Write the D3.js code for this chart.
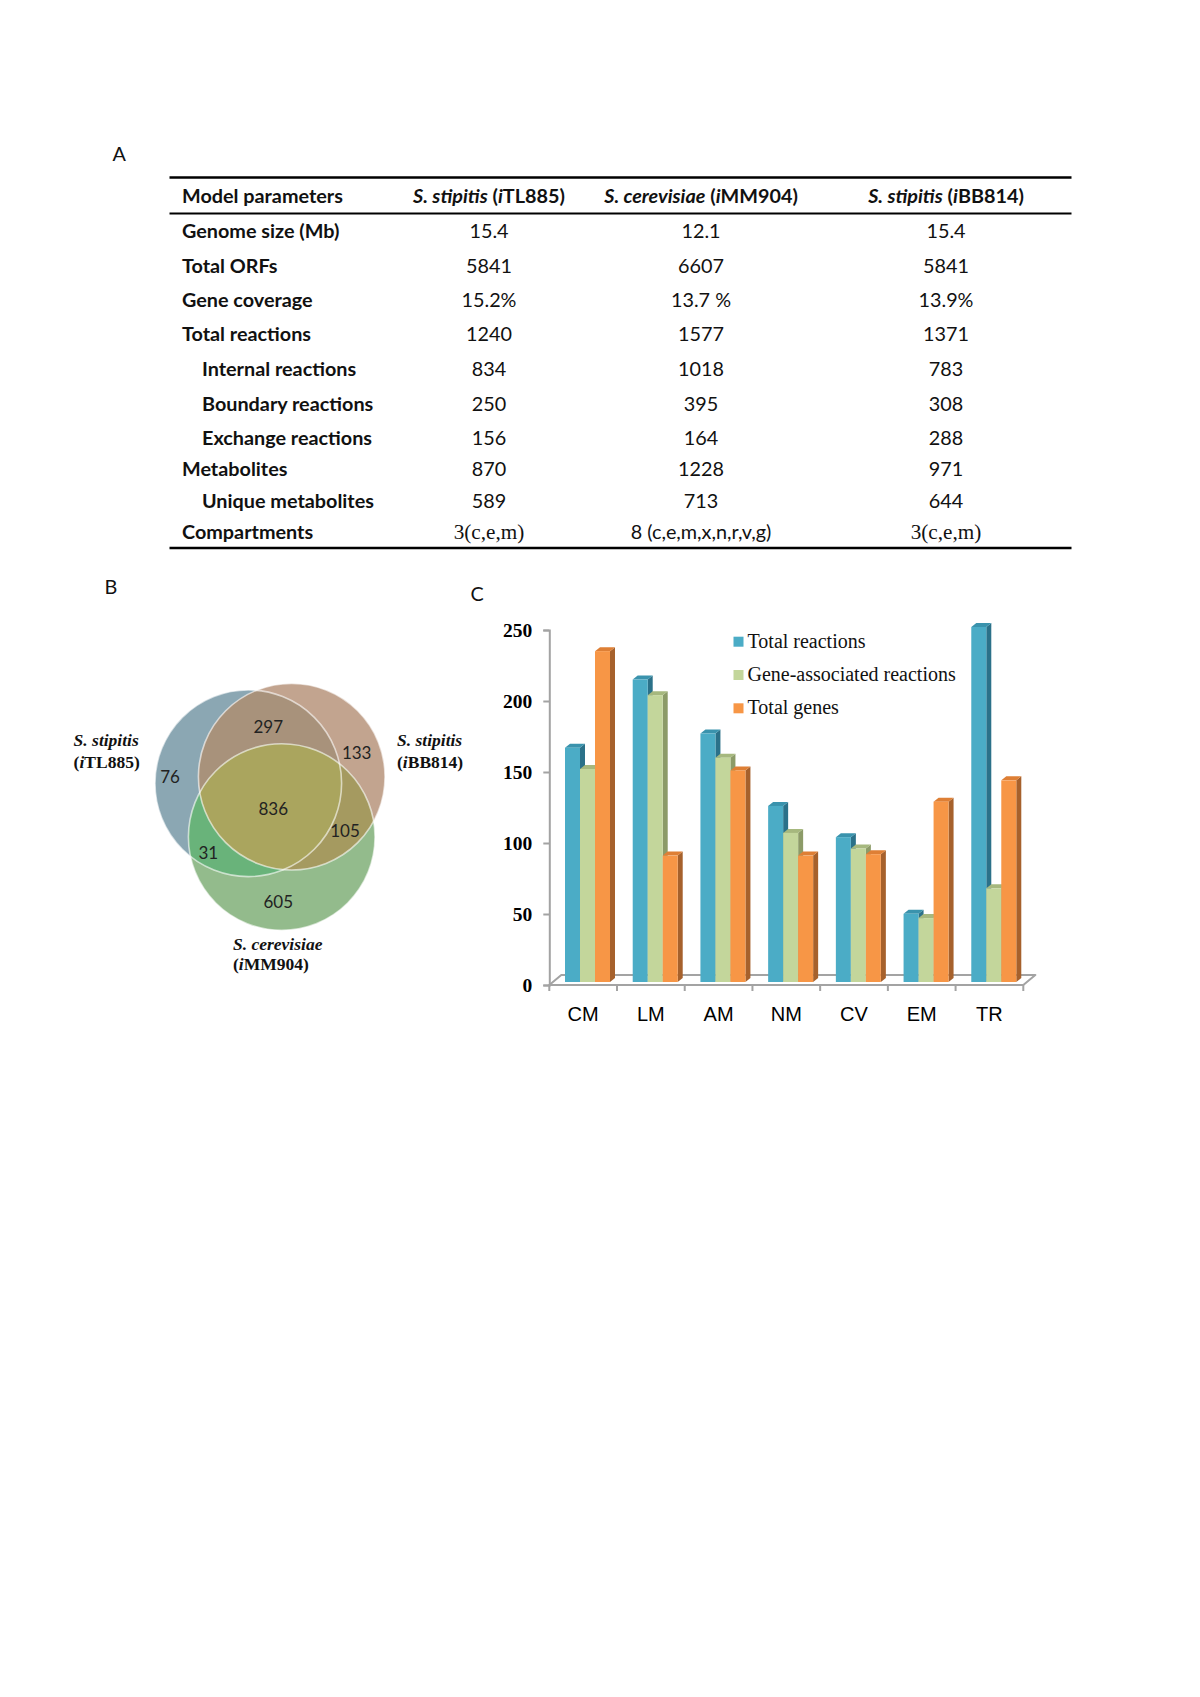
<!DOCTYPE html>
<html><head><meta charset="utf-8">
<script src="https://cdn.jsdelivr.net/npm/d3@7"></script>
<style>body{margin:0;background:#fff} svg{display:block}</style>
</head><body>
<svg id="fig" width="1200" height="1697"></svg>
<script>
// ---------------- Data ----------------
const tableHeaders = ["Model parameters", "S. stipitis (iTL885)", "S. cerevisiae (iMM904)", "S. stipitis (iBB814)"];
const tableRowLabels = ["Genome size (Mb)", "Total ORFs", "Gene coverage", "Total reactions",
  "Internal reactions", "Boundary reactions", "Exchange reactions", "Metabolites",
  "Unique metabolites", "Compartments"];
const subRowLabels = ["Internal reactions", "Boundary reactions", "Exchange reactions", "Unique metabolites"];
const colITL885 = ["15.4", "5841", "15.2%", "1240", "834", "250", "156", "870", "589", "3(c,e,m)"];
const colIMM904 = ["12.1", "6607", "13.7 %", "1577", "1018", "395", "164", "1228", "713", "8 (c,e,m,x,n,r,v,g)"];
const colIBB814 = ["15.4", "5841", "13.9%", "1371", "783", "308", "288", "971", "644", "3(c,e,m)"];

const vennSets = ["S. stipitis (iTL885)", "S. stipitis (iBB814)", "S. cerevisiae (iMM904)"];
const vennRegions = ["TL", "TL&BB", "BB", "ALL", "TL&MM", "BB&MM", "MM"];
const vennCounts = [76, 297, 133, 836, 31, 105, 605];

const barCategories = ["CM", "LM", "AM", "NM", "CV", "EM", "TR"];
const barSeries = ["Total reactions", "Gene-associated reactions", "Total genes"];
const totalReactions = [165, 213, 175, 124, 102, 48, 250];
const geneAssocReactions = [150, 202, 158, 105, 94, 45, 66];
const totalGenes = [233, 89, 149, 89, 90, 127, 142];
const yTicks = [0, 50, 100, 150, 200, 250];

// ---------------- Setup ----------------
const svg = d3.select("#fig");
const SANS = "Lato, 'Open Sans', sans-serif";
const SERIF = "'Liberation Serif', 'Times New Roman', serif";
const ARIAL = "'Liberation Sans', Arial, sans-serif";

function measure(txt, font, size, weight) {
  const t = svg.append("text").attr("font-family", font).attr("font-size", size)
    .attr("font-weight", weight).text(txt);
  const w = t.node().getComputedTextLength(); t.remove(); return w;
}
let tblFS = 20 * 161 / measure("Model parameters", SANS, 20, "bold");
tblFS = Math.max(16, Math.min(22, tblFS));

// Panel letters
[["A", 112.5, 161], ["B", 104.5, 594], ["C", 470.5, 600.5]].forEach(([t, x, y]) =>
  svg.append("text").attr("x", x).attr("y", y).attr("font-family", SANS)
    .attr("font-size", tblFS).attr("fill", "#111").text(t));

// ---------------- Table (A) ----------------
const tbl = svg.append("g");
const ruleX = [169.5, 1071.5];
[[177.5, 2.6], [213.5, 2.1], [548, 2.6]].forEach(([y, w]) =>
  tbl.append("line").attr("x1", ruleX[0]).attr("x2", ruleX[1]).attr("y1", y).attr("y2", y)
    .attr("stroke", "#000").attr("stroke-width", w));

const colX = [489, 701, 946];
const headerY = 203;
tbl.append("text").attr("x", 182).attr("y", headerY).attr("font-family", SANS)
  .attr("font-weight", "bold").attr("font-size", tblFS).attr("fill", "#111").text(tableHeaders[0]);
tableHeaders.slice(1).forEach((h, i) => {
  const m = h.match(/^(S\. \w+) \((i)(\w+)\)$/);
  const t = tbl.append("text").attr("x", colX[i]).attr("y", headerY).attr("text-anchor", "middle")
    .attr("font-family", SANS).attr("font-weight", "bold").attr("font-size", tblFS).attr("fill", "#111");
  t.append("tspan").attr("font-style", "italic").text(m[1]);
  t.append("tspan").text(" (");
  t.append("tspan").attr("font-style", "italic").text(m[2]);
  t.append("tspan").text(m[3] + ")");
});

const rowY = [237.7, 272.5, 307, 341.3, 376, 410.5, 445, 476.4, 508, 539];
const cols = [colITL885, colIMM904, colIBB814];
tableRowLabels.forEach((lab, r) => {
  tbl.append("text").attr("x", subRowLabels.includes(lab) ? 202 : 182).attr("y", rowY[r])
    .attr("font-family", SANS).attr("font-weight", "bold").attr("font-size", tblFS)
    .attr("fill", "#111").text(lab);
  cols.forEach((col, c) => {
    const v = col[r];
    const serif = /^3\(/.test(v);
    tbl.append("text").attr("x", colX[c]).attr("y", rowY[r]).attr("text-anchor", "middle")
      .attr("font-family", serif ? SERIF : SANS).attr("font-size", serif ? tblFS * 1.07 : tblFS)
      .attr("fill", "#111").text(v);
  });
});

// ---------------- Venn (B) ----------------
const venn = svg.append("g");
const R = 93.3;
const circ = { TL: [248.3, 783.3], BB: [291.7, 776.7], MM: [281.7, 837] };
const defs = svg.append("defs");
Object.entries(circ).forEach(([k, c]) => {
  defs.append("clipPath").attr("id", "clip" + k)
    .append("circle").attr("cx", c[0]).attr("cy", c[1]).attr("r", R);
});
const regionColor = { TL: "#8ba7b3", BB: "#c2a48f", MM: "#93bb8c",
  "TL&BB": "#a8927b", "TL&MM": "#69b37a", "BB&MM": "#a59a60", ALL: "#aaa55e" };
function disc(g, k, fill) {
  return g.append("circle").attr("cx", circ[k][0]).attr("cy", circ[k][1]).attr("r", R).attr("fill", fill);
}
disc(venn, "TL", regionColor.TL);
disc(venn, "BB", regionColor.BB);
disc(venn, "MM", regionColor.MM);
disc(venn.append("g").attr("clip-path", "url(#clipTL)"), "BB", regionColor["TL&BB"]);
disc(venn.append("g").attr("clip-path", "url(#clipTL)"), "MM", regionColor["TL&MM"]);
disc(venn.append("g").attr("clip-path", "url(#clipBB)"), "MM", regionColor["BB&MM"]);
disc(venn.append("g").attr("clip-path", "url(#clipTL)").append("g").attr("clip-path", "url(#clipBB)"),
  "MM", regionColor.ALL);
Object.keys(circ).forEach(k => {
  venn.append("circle").attr("cx", circ[k][0]).attr("cy", circ[k][1]).attr("r", R)
    .attr("fill", "none").attr("stroke", "#fff").attr("stroke-opacity", 0.6).attr("stroke-width", 1.6);
});
const vennLabelPos = { TL: [170, 776.7], "TL&BB": [268.3, 726.7], BB: [356.7, 753.3], ALL: [273.3, 809.3],
  "TL&MM": [208.3, 852.7], "BB&MM": [345, 831], MM: [278.3, 901.7] };
vennRegions.forEach((reg, i) => {
  venn.append("text").attr("x", vennLabelPos[reg][0]).attr("y", vennLabelPos[reg][1] + 5.8)
    .attr("text-anchor", "middle").attr("font-family", SANS).attr("font-size", 17)
    .attr("fill", "#222").text(vennCounts[i]);
});
const vennNamePos = [[73.6, 746, 767.5], [397, 746, 767.5], [233, 950, 970]];
vennSets.forEach((s, i) => {
  const m = s.match(/^(S\. \w+) \((i)(\w+)\)$/);
  const [x, y1, y2] = vennNamePos[i];
  venn.append("text").attr("x", x).attr("y", y1).attr("font-family", SERIF).attr("font-size", 17.5)
    .attr("font-weight", "bold").attr("font-style", "italic").attr("fill", "#111").text(m[1]);
  const t = venn.append("text").attr("x", x).attr("y", y2).attr("font-family", SERIF).attr("font-size", 17.5)
    .attr("font-weight", "bold").attr("fill", "#111");
  t.append("tspan").text("(");
  t.append("tspan").attr("font-style", "italic").text(m[2]);
  t.append("tspan").text(m[3] + ")");
});

// ---------------- Bar chart (C) ----------------
const bar = svg.append("g");
const x0 = 549.3, x1 = 1023.3;
const xBand = d3.scaleBand().domain(barCategories).range([x0, x1]).paddingInner(0).paddingOuter(0);
const xInner = d3.scaleBand().domain(barSeries).range([15.7, 60.7]).padding(0);
const y = d3.scaleLinear().domain([0, 250]).range([985, 630]);
const axisColor = "#a3a3a3";
const floorD = 12, floorH = 10;

bar.append("path")
  .attr("d", `M${x0},${y(0)} L${x1},${y(0)} L${x1 + floorD},${y(0) - floorH} L${x0 + floorD},${y(0) - floorH} Z`)
  .attr("fill", "#fff").attr("stroke", axisColor).attr("stroke-width", 2).attr("stroke-linejoin", "round");
const boundaries = barCategories.map(c => xBand(c)).concat([x1]);
boundaries.forEach(bx => bar.append("line").attr("x1", bx).attr("x2", bx)
  .attr("y1", y(0)).attr("y2", y(0) + 6).attr("stroke", axisColor).attr("stroke-width", 2));

const yAxis = d3.axisLeft(y).tickValues(yTicks).tickSize(6).tickPadding(11);
const yg = bar.append("g").attr("transform", `translate(${x0},0)`).call(yAxis);
yg.select(".domain").attr("stroke", axisColor).attr("stroke-width", 2);
yg.selectAll(".tick line").attr("stroke", axisColor).attr("stroke-width", 2);
yg.selectAll(".tick text").attr("font-family", SERIF).attr("font-weight", "bold")
  .attr("font-size", 19.5).attr("fill", "#000").attr("dy", "0.33em");

barCategories.forEach(c => bar.append("text").attr("x", xBand(c) + xBand.bandwidth() / 2).attr("y", 1021)
  .attr("text-anchor", "middle").attr("font-family", ARIAL).attr("font-size", 20).attr("fill", "#000").text(c));

const seriesVals = [totalReactions, geneAssocReactions, totalGenes];
const colors = [
  { front: "#4bacc6", top: "#3a93ad", side: "#2b7189" },
  { front: "#c3d69b", top: "#a6b87e", side: "#8c9b68" },
  { front: "#f79646", top: "#de7f35", side: "#a6612c" }];
const dx = 5, dy = -4, lift = 3;
barCategories.forEach((c, ci) => {
  barSeries.forEach((s, si) => {
    const v = seriesVals[si][ci];
    const bx = xBand(c) + xInner(s), w = xInner.bandwidth();
    const yt = y(v) - lift, yb = y(0) - lift;
    const col = colors[si];
    bar.append("path").attr("d", `M${bx + w},${yt} L${bx + w + dx},${yt + dy} L${bx + w + dx},${yb + dy} L${bx + w},${yb} Z`)
      .attr("fill", col.side);
    bar.append("path").attr("d", `M${bx},${yt} L${bx + w},${yt} L${bx + w + dx},${yt + dy} L${bx + dx},${yt + dy} Z`)
      .attr("fill", col.top);
    bar.append("rect").attr("x", bx).attr("y", yt).attr("width", w).attr("height", yb - yt).attr("fill", col.front);
  });
});

const legY = [641.7, 675, 708.3];
barSeries.forEach((s, i) => {
  bar.append("rect").attr("x", 733.5).attr("y", legY[i] - 5).attr("width", 10).attr("height", 10)
    .attr("fill", colors[i].front);
  bar.append("text").attr("x", 747.5).attr("y", legY[i] + 6).attr("font-family", SERIF)
    .attr("font-size", 20).attr("fill", "#111").text(s);
});
</script>
</body></html>
